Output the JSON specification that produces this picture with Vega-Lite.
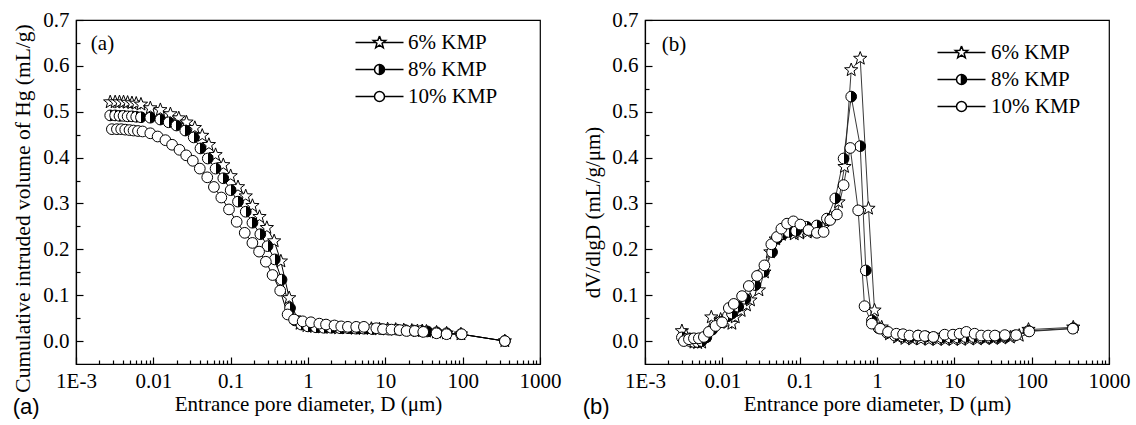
{
"$schema": "https://vega.github.io/schema/vega-lite/v6.json",
"background": "white",
"padding": {"left": 12, "top": 8, "right": 5, "bottom": 0},
"spacing": 20,
"resolve": {"scale": {"shape": "independent"}, "legend": {"shape": "independent"}},
"config": {
  "view": {"stroke": "black", "strokeWidth": 1.2},
  "font": "Liberation Serif",
  "axis": {"labelFont": "Liberation Serif", "titleFont": "Liberation Serif", "labelFontSize": 21, "titleFontSize": 21, "labelColor": "black", "titleColor": "black", "domainColor": "black", "tickColor": "black", "grid": false, "titleFontWeight": "normal", "domainWidth": 1.2, "tickWidth": 1.2},
  "legend": {"labelFont": "Liberation Serif", "labelFontSize": 21, "labelColor": "black", "rowPadding": 5}
},
"datasets": {
"cum": [
{"s":"6% KMP","d":0.00277,"v":0.521},{"s":"6% KMP","d":0.00321,"v":0.521},{"s":"6% KMP","d":0.00365,"v":0.521},{"s":"6% KMP","d":0.00412,"v":0.521},{"s":"6% KMP","d":0.00465,"v":0.520},{"s":"6% KMP","d":0.00529,"v":0.519},{"s":"6% KMP","d":0.00601,"v":0.518},{"s":"6% KMP","d":0.00692,"v":0.516},{"s":"6% KMP","d":0.00914,"v":0.508},{"s":"6% KMP","d":0.01233,"v":0.504},{"s":"6% KMP","d":0.01663,"v":0.495},{"s":"6% KMP","d":0.02133,"v":0.486},{"s":"6% KMP","d":0.02685,"v":0.477},{"s":"6% KMP","d":0.0344,"v":0.465},{"s":"6% KMP","d":0.0429,"v":0.448},{"s":"6% KMP","d":0.0523,"v":0.428},{"s":"6% KMP","d":0.0638,"v":0.406},{"s":"6% KMP","d":0.0803,"v":0.384},{"s":"6% KMP","d":0.100,"v":0.360},{"s":"6% KMP","d":0.1244,"v":0.336},{"s":"6% KMP","d":0.1566,"v":0.316},{"s":"6% KMP","d":0.1913,"v":0.295},{"s":"6% KMP","d":0.2361,"v":0.271},{"s":"6% KMP","d":0.2937,"v":0.247},{"s":"6% KMP","d":0.3652,"v":0.218},{"s":"6% KMP","d":0.4459,"v":0.174},{"s":"6% KMP","d":0.5714,"v":0.094},{"s":"6% KMP","d":0.664,"v":0.050},{"s":"6% KMP","d":0.79,"v":0.038},{"s":"6% KMP","d":0.97,"v":0.033},{"s":"6% KMP","d":1.22,"v":0.031},{"s":"6% KMP","d":1.55,"v":0.030},{"s":"6% KMP","d":1.98,"v":0.029},{"s":"6% KMP","d":2.5,"v":0.028},{"s":"6% KMP","d":3.2,"v":0.028},{"s":"6% KMP","d":4.1,"v":0.027},{"s":"6% KMP","d":5.2,"v":0.027},{"s":"6% KMP","d":6.6,"v":0.027},{"s":"6% KMP","d":8.4,"v":0.026},{"s":"6% KMP","d":10.7,"v":0.026},{"s":"6% KMP","d":13.6,"v":0.025},{"s":"6% KMP","d":17.3,"v":0.024},{"s":"6% KMP","d":22,"v":0.023},{"s":"6% KMP","d":26,"v":0.022},{"s":"6% KMP","d":30,"v":0.022},{"s":"6% KMP","d":34,"v":0.021},{"s":"6% KMP","d":46,"v":0.019},{"s":"6% KMP","d":62,"v":0.017},{"s":"6% KMP","d":95,"v":0.015},{"s":"6% KMP","d":351,"v":0.0},
{"s":"8% KMP","d":0.00277,"v":0.492},{"s":"8% KMP","d":0.00321,"v":0.492},{"s":"8% KMP","d":0.00365,"v":0.491},{"s":"8% KMP","d":0.00412,"v":0.491},{"s":"8% KMP","d":0.00465,"v":0.490},{"s":"8% KMP","d":0.00529,"v":0.490},{"s":"8% KMP","d":0.00601,"v":0.489},{"s":"8% KMP","d":0.00692,"v":0.488},{"s":"8% KMP","d":0.00914,"v":0.487},{"s":"8% KMP","d":0.01233,"v":0.483},{"s":"8% KMP","d":0.0158,"v":0.477},{"s":"8% KMP","d":0.0199,"v":0.470},{"s":"8% KMP","d":0.0259,"v":0.459},{"s":"8% KMP","d":0.0333,"v":0.444},{"s":"8% KMP","d":0.0407,"v":0.420},{"s":"8% KMP","d":0.0506,"v":0.398},{"s":"8% KMP","d":0.0638,"v":0.376},{"s":"8% KMP","d":0.0803,"v":0.355},{"s":"8% KMP","d":0.100,"v":0.329},{"s":"8% KMP","d":0.1244,"v":0.304},{"s":"8% KMP","d":0.1566,"v":0.282},{"s":"8% KMP","d":0.1913,"v":0.258},{"s":"8% KMP","d":0.2418,"v":0.233},{"s":"8% KMP","d":0.300,"v":0.207},{"s":"8% KMP","d":0.372,"v":0.178},{"s":"8% KMP","d":0.455,"v":0.134},{"s":"8% KMP","d":0.586,"v":0.072},{"s":"8% KMP","d":0.68,"v":0.045},{"s":"8% KMP","d":0.82,"v":0.036},{"s":"8% KMP","d":1.0,"v":0.032},{"s":"8% KMP","d":1.27,"v":0.030},{"s":"8% KMP","d":1.6,"v":0.029},{"s":"8% KMP","d":2.0,"v":0.029},{"s":"8% KMP","d":2.6,"v":0.028},{"s":"8% KMP","d":3.3,"v":0.028},{"s":"8% KMP","d":4.2,"v":0.027},{"s":"8% KMP","d":5.3,"v":0.027},{"s":"8% KMP","d":6.8,"v":0.026},{"s":"8% KMP","d":8.7,"v":0.026},{"s":"8% KMP","d":11,"v":0.025},{"s":"8% KMP","d":14,"v":0.025},{"s":"8% KMP","d":18,"v":0.024},{"s":"8% KMP","d":23,"v":0.023},{"s":"8% KMP","d":29,"v":0.022},{"s":"8% KMP","d":35,"v":0.021},{"s":"8% KMP","d":46,"v":0.019},{"s":"8% KMP","d":62,"v":0.017},{"s":"8% KMP","d":95,"v":0.015},{"s":"8% KMP","d":351,"v":0.0},
{"s":"10% KMP","d":0.00291,"v":0.462},{"s":"10% KMP","d":0.00338,"v":0.462},{"s":"10% KMP","d":0.00384,"v":0.462},{"s":"10% KMP","d":0.00433,"v":0.461},{"s":"10% KMP","d":0.00492,"v":0.460},{"s":"10% KMP","d":0.00555,"v":0.459},{"s":"10% KMP","d":0.00633,"v":0.458},{"s":"10% KMP","d":0.00726,"v":0.457},{"s":"10% KMP","d":0.00914,"v":0.453},{"s":"10% KMP","d":0.01137,"v":0.446},{"s":"10% KMP","d":0.01432,"v":0.438},{"s":"10% KMP","d":0.01749,"v":0.428},{"s":"10% KMP","d":0.02178,"v":0.417},{"s":"10% KMP","d":0.0266,"v":0.405},{"s":"10% KMP","d":0.0324,"v":0.393},{"s":"10% KMP","d":0.0399,"v":0.376},{"s":"10% KMP","d":0.0498,"v":0.357},{"s":"10% KMP","d":0.0607,"v":0.336},{"s":"10% KMP","d":0.0757,"v":0.313},{"s":"10% KMP","d":0.0951,"v":0.287},{"s":"10% KMP","d":0.1196,"v":0.260},{"s":"10% KMP","d":0.152,"v":0.236},{"s":"10% KMP","d":0.191,"v":0.214},{"s":"10% KMP","d":0.233,"v":0.195},{"s":"10% KMP","d":0.285,"v":0.173},{"s":"10% KMP","d":0.348,"v":0.144},{"s":"10% KMP","d":0.437,"v":0.110},{"s":"10% KMP","d":0.545,"v":0.058},{"s":"10% KMP","d":0.66,"v":0.047},{"s":"10% KMP","d":0.853,"v":0.043},{"s":"10% KMP","d":1.09,"v":0.041},{"s":"10% KMP","d":1.40,"v":0.038},{"s":"10% KMP","d":1.71,"v":0.036},{"s":"10% KMP","d":2.20,"v":0.034},{"s":"10% KMP","d":2.69,"v":0.032},{"s":"10% KMP","d":3.28,"v":0.031},{"s":"10% KMP","d":4.20,"v":0.031},{"s":"10% KMP","d":5.28,"v":0.031},{"s":"10% KMP","d":7.64,"v":0.028},{"s":"10% KMP","d":9.33,"v":0.026},{"s":"10% KMP","d":12.0,"v":0.025},{"s":"10% KMP","d":15.3,"v":0.024},{"s":"10% KMP","d":18.8,"v":0.022},{"s":"10% KMP","d":24.0,"v":0.022},{"s":"10% KMP","d":30.9,"v":0.020},{"s":"10% KMP","d":45.9,"v":0.017},{"s":"10% KMP","d":61.9,"v":0.015},{"s":"10% KMP","d":97,"v":0.015},{"s":"10% KMP","d":351,"v":0.0}
],
"diff": [
{"s":"6% KMP","d":0.0030,"v":0.022},{"s":"6% KMP","d":0.0034,"v":0.012},{"s":"6% KMP","d":0.0038,"v":0.003},{"s":"6% KMP","d":0.0043,"v":-0.003},{"s":"6% KMP","d":0.0048,"v":-0.004},{"s":"6% KMP","d":0.0054,"v":-0.003},{"s":"6% KMP","d":0.0062,"v":0.012},{"s":"6% KMP","d":0.0072,"v":0.052},{"s":"6% KMP","d":0.0095,"v":0.047},{"s":"6% KMP","d":0.0118,"v":0.040},{"s":"6% KMP","d":0.0133,"v":0.038},{"s":"6% KMP","d":0.0147,"v":0.052},{"s":"6% KMP","d":0.0175,"v":0.066},{"s":"6% KMP","d":0.0205,"v":0.078},{"s":"6% KMP","d":0.0231,"v":0.089},{"s":"6% KMP","d":0.0297,"v":0.111},{"s":"6% KMP","d":0.0350,"v":0.150},{"s":"6% KMP","d":0.0418,"v":0.194},{"s":"6% KMP","d":0.0490,"v":0.222},{"s":"6% KMP","d":0.0580,"v":0.232},{"s":"6% KMP","d":0.0700,"v":0.236},{"s":"6% KMP","d":0.0850,"v":0.233},{"s":"6% KMP","d":0.100,"v":0.235},{"s":"6% KMP","d":0.125,"v":0.237},{"s":"6% KMP","d":0.160,"v":0.240},{"s":"6% KMP","d":0.200,"v":0.247},{"s":"6% KMP","d":0.250,"v":0.270},{"s":"6% KMP","d":0.318,"v":0.303},{"s":"6% KMP","d":0.380,"v":0.380},{"s":"6% KMP","d":0.464,"v":0.591},{"s":"6% KMP","d":0.607,"v":0.616},{"s":"6% KMP","d":0.776,"v":0.289},{"s":"6% KMP","d":0.929,"v":0.067},{"s":"6% KMP","d":1.15,"v":0.030},{"s":"6% KMP","d":1.45,"v":0.015},{"s":"6% KMP","d":1.85,"v":0.008},{"s":"6% KMP","d":2.3,"v":0.005},{"s":"6% KMP","d":2.9,"v":0.004},{"s":"6% KMP","d":3.7,"v":0.004},{"s":"6% KMP","d":4.7,"v":0.003},{"s":"6% KMP","d":6.0,"v":0.003},{"s":"6% KMP","d":7.6,"v":0.003},{"s":"6% KMP","d":9.7,"v":0.003},{"s":"6% KMP","d":12.3,"v":0.003},{"s":"6% KMP","d":15.6,"v":0.004},{"s":"6% KMP","d":19.8,"v":0.004},{"s":"6% KMP","d":25,"v":0.005},{"s":"6% KMP","d":32,"v":0.005},{"s":"6% KMP","d":41,"v":0.006},{"s":"6% KMP","d":53,"v":0.008},{"s":"6% KMP","d":69,"v":0.012},{"s":"6% KMP","d":91,"v":0.025},{"s":"6% KMP","d":345,"v":0.030},
{"s":"8% KMP","d":0.0030,"v":0.008},{"s":"8% KMP","d":0.0034,"v":0.004},{"s":"8% KMP","d":0.0038,"v":0.0},{"s":"8% KMP","d":0.0043,"v":-0.002},{"s":"8% KMP","d":0.0048,"v":-0.002},{"s":"8% KMP","d":0.0054,"v":0.0},{"s":"8% KMP","d":0.0062,"v":0.008},{"s":"8% KMP","d":0.0074,"v":0.025},{"s":"8% KMP","d":0.0095,"v":0.042},{"s":"8% KMP","d":0.0118,"v":0.055},{"s":"8% KMP","d":0.0133,"v":0.060},{"s":"8% KMP","d":0.0160,"v":0.075},{"s":"8% KMP","d":0.0199,"v":0.092},{"s":"8% KMP","d":0.0268,"v":0.122},{"s":"8% KMP","d":0.0344,"v":0.151},{"s":"8% KMP","d":0.0440,"v":0.194},{"s":"8% KMP","d":0.0508,"v":0.223},{"s":"8% KMP","d":0.0610,"v":0.233},{"s":"8% KMP","d":0.0720,"v":0.238},{"s":"8% KMP","d":0.0900,"v":0.240},{"s":"8% KMP","d":0.1236,"v":0.249},{"s":"8% KMP","d":0.167,"v":0.252},{"s":"8% KMP","d":0.225,"v":0.267},{"s":"8% KMP","d":0.289,"v":0.311},{"s":"8% KMP","d":0.370,"v":0.398},{"s":"8% KMP","d":0.464,"v":0.533},{"s":"8% KMP","d":0.607,"v":0.425},{"s":"8% KMP","d":0.717,"v":0.154},{"s":"8% KMP","d":0.860,"v":0.045},{"s":"8% KMP","d":1.05,"v":0.028},{"s":"8% KMP","d":1.35,"v":0.018},{"s":"8% KMP","d":1.7,"v":0.012},{"s":"8% KMP","d":2.15,"v":0.010},{"s":"8% KMP","d":2.7,"v":0.009},{"s":"8% KMP","d":3.4,"v":0.012},{"s":"8% KMP","d":4.3,"v":0.010},{"s":"8% KMP","d":5.4,"v":0.008},{"s":"8% KMP","d":6.9,"v":0.008},{"s":"8% KMP","d":8.7,"v":0.008},{"s":"8% KMP","d":11,"v":0.008},{"s":"8% KMP","d":14,"v":0.009},{"s":"8% KMP","d":17.8,"v":0.009},{"s":"8% KMP","d":22.5,"v":0.008},{"s":"8% KMP","d":28.5,"v":0.008},{"s":"8% KMP","d":36,"v":0.009},{"s":"8% KMP","d":46,"v":0.010},{"s":"8% KMP","d":60,"v":0.012},{"s":"8% KMP","d":91,"v":0.022},{"s":"8% KMP","d":345,"v":0.028},
{"s":"10% KMP","d":0.00318,"v":0.0},{"s":"10% KMP","d":0.00370,"v":0.004},{"s":"10% KMP","d":0.00429,"v":0.006},{"s":"10% KMP","d":0.00497,"v":0.006},{"s":"10% KMP","d":0.00577,"v":0.009},{"s":"10% KMP","d":0.00669,"v":0.020},{"s":"10% KMP","d":0.00817,"v":0.033},{"s":"10% KMP","d":0.00993,"v":0.041},{"s":"10% KMP","d":0.01213,"v":0.072},{"s":"10% KMP","d":0.01407,"v":0.081},{"s":"10% KMP","d":0.0180,"v":0.098},{"s":"10% KMP","d":0.0220,"v":0.120},{"s":"10% KMP","d":0.0281,"v":0.142},{"s":"10% KMP","d":0.0350,"v":0.165},{"s":"10% KMP","d":0.0430,"v":0.211},{"s":"10% KMP","d":0.0508,"v":0.227},{"s":"10% KMP","d":0.0580,"v":0.245},{"s":"10% KMP","d":0.0687,"v":0.256},{"s":"10% KMP","d":0.0830,"v":0.261},{"s":"10% KMP","d":0.102,"v":0.254},{"s":"10% KMP","d":0.130,"v":0.242},{"s":"10% KMP","d":0.167,"v":0.236},{"s":"10% KMP","d":0.204,"v":0.238},{"s":"10% KMP","d":0.248,"v":0.264},{"s":"10% KMP","d":0.303,"v":0.276},{"s":"10% KMP","d":0.370,"v":0.340},{"s":"10% KMP","d":0.451,"v":0.421},{"s":"10% KMP","d":0.571,"v":0.285},{"s":"10% KMP","d":0.690,"v":0.076},{"s":"10% KMP","d":0.857,"v":0.038},{"s":"10% KMP","d":1.10,"v":0.027},{"s":"10% KMP","d":1.39,"v":0.020},{"s":"10% KMP","d":1.78,"v":0.016},{"s":"10% KMP","d":2.17,"v":0.015},{"s":"10% KMP","d":2.63,"v":0.012},{"s":"10% KMP","d":3.4,"v":0.012},{"s":"10% KMP","d":4.15,"v":0.011},{"s":"10% KMP","d":5.35,"v":0.009},{"s":"10% KMP","d":7.5,"v":0.014},{"s":"10% KMP","d":9.6,"v":0.014},{"s":"10% KMP","d":11.7,"v":0.016},{"s":"10% KMP","d":14.3,"v":0.020},{"s":"10% KMP","d":18.3,"v":0.016},{"s":"10% KMP","d":22.3,"v":0.012},{"s":"10% KMP","d":27.4,"v":0.012},{"s":"10% KMP","d":33.5,"v":0.012},{"s":"10% KMP","d":45,"v":0.013},{"s":"10% KMP","d":63,"v":0.013},{"s":"10% KMP","d":93,"v":0.021},{"s":"10% KMP","d":341,"v":0.027}
]
},
"hconcat": [
{
  "width": 464, "height": 344,
  "title": {"text": "(a)", "orient": "bottom", "anchor": "start", "font": "Liberation Sans", "fontSize": 22, "fontWeight": "normal", "color": "black", "offset": 0, "dy": -17},
  "data": {"name": "cum"},
  "layer": [
    {"mark": {"type": "line", "color": "black", "strokeWidth": 1},
     "encoding": {
       "x": {"field": "d", "type": "quantitative", "scale": {"type": "log", "domain": [0.001, 1000]},
             "axis": {"orient": "bottom", "values": [0.001, 0.01, 0.1, 1, 10, 100, 1000], "labelExpr": "datum.value < 0.005 ? '1E-3' : datum.value < 0.05 ? '0.01' : datum.value < 0.5 ? '0.1' : format(datum.value, 'd')", "tickSize": -7, "labelPadding": 13, "title": "Entrance pore diameter, D (μm)", "titlePadding": 2, "labelFlush": false, "labelOverlap": false}},
       "y": {"field": "v", "type": "quantitative", "scale": {"domain": [-0.05, 0.7], "nice": false, "zero": false},
             "axis": {"orient": "left", "values": [0, 0.1, 0.2, 0.3, 0.4, 0.5, 0.6, 0.7], "format": ".1f", "tickSize": -7, "labelPadding": 14, "title": "Cumulative intruded volume of Hg (mL/g)", "titlePadding": 8, "titleY": 188, "titleFontSize": 21.5, "labelFlush": false, "labelOverlap": false}},
       "detail": {"field": "s"}
     }},
    {"mark": {"type": "point", "filled": true, "stroke": "black", "strokeWidth": 1, "opacity": 1, "size": 115},
     "encoding": {
       "x": {"field": "d", "type": "quantitative", "axis": {"orient": "bottom", "values": [0.002,0.003,0.004,0.005,0.006,0.007,0.008,0.009,0.02,0.03,0.04,0.05,0.06,0.07,0.08,0.09,0.2,0.3,0.4,0.5,0.6,0.7,0.8,0.9,2,3,4,5,6,7,8,9,20,30,40,50,60,70,80,90,200,300,400,500,600,700,800,900], "tickSize": -4, "labels": false, "domain": false, "title": null}},
       "y": {"field": "v", "type": "quantitative", "axis": {"orient": "left", "values": [0.05, 0.15, 0.25, 0.35, 0.45, 0.55, 0.65], "tickSize": -4, "labels": false, "domain": false, "title": null}},
       "shape": {"field": "s", "type": "nominal", "scale": {"domain": ["6% KMP", "8% KMP", "10% KMP"], "range": ["M0,-1.3L0.321,-0.442L1.236,-0.402L0.519,0.169L0.764,1.052L0,0.546L-0.764,1.052L-0.519,0.169L-1.236,-0.402L-0.321,-0.442Z", "circle", "circle"]}, "legend": null},
       "fill": {"condition": {"test": "datum.s === '8% KMP'", "value": {"gradient": "linear", "x1": 0, "y1": 0, "x2": 1, "y2": 0, "stops": [{"offset": 0, "color": "white"}, {"offset": 0.5, "color": "white"}, {"offset": 0.5, "color": "black"}, {"offset": 1, "color": "black"}]}}, "value": "white"}
     }},
    {"transform": [{"filter": "false"}],
     "mark": {"type": "point", "filled": true, "fill": "black", "stroke": "black", "strokeWidth": 1, "opacity": 1},
     "encoding": {
       "x": {"field": "d", "type": "quantitative", "axis": null},
       "y": {"field": "v", "type": "quantitative", "axis": null},
       "shape": {"field": "s", "type": "nominal", "scale": {"domain": ["6% KMP", "8% KMP", "10% KMP"], "range": [
         "M-4.8,0L-0.73,0M0.73,0L4.8,0M0,-1.3L0.321,-0.442L1.236,-0.402L0.519,0.169L0.764,1.052L0,0.546L-0.764,1.052L-0.519,0.169L-1.236,-0.402L-0.321,-0.442L0,-1.3L-0.321,-0.442L-1.236,-0.402L-0.519,0.169L-0.764,1.052L0,0.546L0.764,1.052L0.519,0.169L1.236,-0.402L0.321,-0.442L0,-1.3",
         "M-4.8,0L-1,0M1,0L4.8,0M0,-1A1,1,0,0,0,0,1A1,1,0,0,1,0,-1M0,-1A1,1,0,0,1,0,1Z",
         "M-4.8,0L-1,0M1,0L4.8,0M1,0A1,1,0,0,1,-1,0A1,1,0,0,1,1,0A1,1,0,0,0,-1,0A1,1,0,0,0,1,0"]},
         "legend": {"title": null, "orient": "none", "legendX": 293, "legendY": 12, "labelOffset": 18}}
     }},
    {"data": {"values": [{}]},
     "mark": {"type": "text", "text": "(a)", "font": "Liberation Serif", "fontSize": 21, "color": "black", "align": "center", "baseline": "middle"},
     "encoding": {"x": {"datum": 0.0022, "type": "quantitative", "axis": null}, "y": {"datum": 0.648, "type": "quantitative", "axis": null}}}
  ],
  "resolve": {"axis": {"x": "independent", "y": "independent"}, "scale": {"shape": "independent"}}
},
{
  "width": 464, "height": 344,
  "title": {"text": "(b)", "orient": "bottom", "anchor": "start", "font": "Liberation Sans", "fontSize": 22, "fontWeight": "normal", "color": "black", "offset": 0, "dy": -17},
  "data": {"name": "diff"},
  "layer": [
    {"mark": {"type": "line", "color": "#222222", "strokeWidth": 0.9},
     "encoding": {
       "x": {"field": "d", "type": "quantitative", "scale": {"type": "log", "domain": [0.001, 1000]},
             "axis": {"orient": "bottom", "values": [0.001, 0.01, 0.1, 1, 10, 100, 1000], "labelExpr": "datum.value < 0.005 ? '1E-3' : datum.value < 0.05 ? '0.01' : datum.value < 0.5 ? '0.1' : format(datum.value, 'd')", "tickSize": -7, "labelPadding": 13, "title": "Entrance pore diameter, D (μm)", "titlePadding": 2, "labelFlush": false, "labelOverlap": false}},
       "y": {"field": "v", "type": "quantitative", "scale": {"domain": [-0.05, 0.7], "nice": false, "zero": false},
             "axis": {"orient": "left", "values": [0, 0.1, 0.2, 0.3, 0.4, 0.5, 0.6, 0.7], "format": ".1f", "tickSize": -7, "labelPadding": 14, "title": "dV/dlgD (mL/g/μm)", "titlePadding": 8, "titleY": 192, "labelFlush": false, "labelOverlap": false}},
       "detail": {"field": "s"}
     }},
    {"mark": {"type": "point", "filled": true, "stroke": "black", "strokeWidth": 1, "opacity": 1, "size": 115},
     "encoding": {
       "x": {"field": "d", "type": "quantitative", "axis": {"orient": "bottom", "values": [0.002,0.003,0.004,0.005,0.006,0.007,0.008,0.009,0.02,0.03,0.04,0.05,0.06,0.07,0.08,0.09,0.2,0.3,0.4,0.5,0.6,0.7,0.8,0.9,2,3,4,5,6,7,8,9,20,30,40,50,60,70,80,90,200,300,400,500,600,700,800,900], "tickSize": -4, "labels": false, "domain": false, "title": null}},
       "y": {"field": "v", "type": "quantitative", "axis": {"orient": "left", "values": [0.05, 0.15, 0.25, 0.35, 0.45, 0.55, 0.65], "tickSize": -4, "labels": false, "domain": false, "title": null}},
       "shape": {"field": "s", "type": "nominal", "scale": {"domain": ["6% KMP", "8% KMP", "10% KMP"], "range": ["M0,-1.3L0.321,-0.442L1.236,-0.402L0.519,0.169L0.764,1.052L0,0.546L-0.764,1.052L-0.519,0.169L-1.236,-0.402L-0.321,-0.442Z", "circle", "circle"]}, "legend": null},
       "fill": {"condition": {"test": "datum.s === '8% KMP'", "value": {"gradient": "linear", "x1": 0, "y1": 0, "x2": 1, "y2": 0, "stops": [{"offset": 0, "color": "white"}, {"offset": 0.5, "color": "white"}, {"offset": 0.5, "color": "black"}, {"offset": 1, "color": "black"}]}}, "value": "white"}
     }},
    {"transform": [{"filter": "false"}],
     "mark": {"type": "point", "filled": true, "fill": "black", "stroke": "black", "strokeWidth": 1, "opacity": 1},
     "encoding": {
       "x": {"field": "d", "type": "quantitative", "axis": null},
       "y": {"field": "v", "type": "quantitative", "axis": null},
       "shape": {"field": "s", "type": "nominal", "scale": {"domain": ["6% KMP", "8% KMP", "10% KMP"], "range": [
         "M-4.8,0L-0.73,0M0.73,0L4.8,0M0,-1.3L0.321,-0.442L1.236,-0.402L0.519,0.169L0.764,1.052L0,0.546L-0.764,1.052L-0.519,0.169L-1.236,-0.402L-0.321,-0.442L0,-1.3L-0.321,-0.442L-1.236,-0.402L-0.519,0.169L-0.764,1.052L0,0.546L0.764,1.052L0.519,0.169L1.236,-0.402L0.321,-0.442L0,-1.3",
         "M-4.8,0L-1,0M1,0L4.8,0M0,-1A1,1,0,0,0,0,1A1,1,0,0,1,0,-1M0,-1A1,1,0,0,1,0,1Z",
         "M-4.8,0L-1,0M1,0L4.8,0M1,0A1,1,0,0,1,-1,0A1,1,0,0,1,1,0A1,1,0,0,0,-1,0A1,1,0,0,0,1,0"]},
         "legend": {"title": null, "orient": "none", "legendX": 306, "legendY": 22, "labelOffset": 19}}
     }},
    {"data": {"values": [{}]},
     "mark": {"type": "text", "text": "(b)", "font": "Liberation Serif", "fontSize": 21, "color": "black", "align": "center", "baseline": "middle"},
     "encoding": {"x": {"datum": 0.00237, "type": "quantitative", "axis": null}, "y": {"datum": 0.646, "type": "quantitative", "axis": null}}}
  ],
  "resolve": {"axis": {"x": "independent", "y": "independent"}, "scale": {"shape": "independent"}}
}
]
}
